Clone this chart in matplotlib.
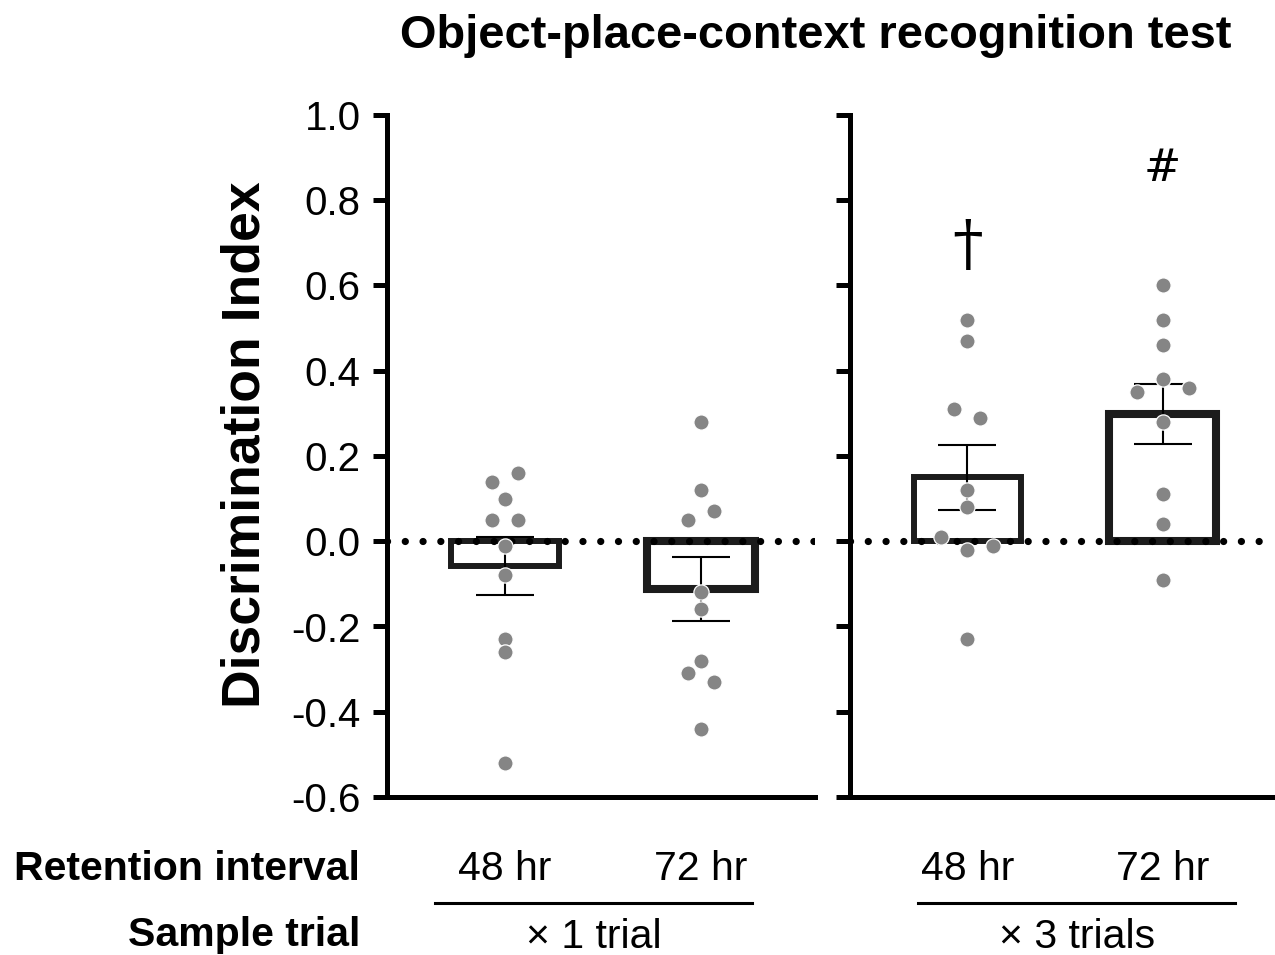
import matplotlib
matplotlib.use("Agg")
import matplotlib.pyplot as plt
from matplotlib.lines import Line2D

W, H = 1275, 955
plt.rcParams.update({
    "font.family": ["Liberation Sans", "DejaVu Sans"],
    "axes.linewidth": 3.6,
})

# ---- data ----
intervals = ["48 hr", "72 hr"]
groups = ["\u00d7 1 trial", "\u00d7 3 trials"]

one_48 = [0.14, 0.16, 0.10, 0.05, 0.05, -0.01, -0.08, -0.23, -0.26, -0.52]
one_72 = [0.28, 0.12, 0.05, 0.07, -0.12, -0.16, -0.28, -0.31, -0.33, -0.44]
three_48 = [0.52, 0.47, 0.31, 0.29, 0.12, 0.08, 0.01, -0.02, -0.01, -0.23]
three_72 = [0.60, 0.52, 0.46, 0.35, 0.38, 0.36, 0.28, 0.11, 0.04, -0.09]

means_one = [-0.058, -0.112]
sem_one = [0.068, 0.074]
means_three = [0.150, 0.298]
sem_three = [0.076, 0.070]

marks_three = ["\u2020", "#"]
mark_y = [0.69, 0.875]

BAR_EDGE = "#1c1c1c"
DOT = "#858585"


def swarm(vals, step=0.1325, gap=0.028):
    """centre points that sit on the same 'row' (close values)"""
    order = sorted(range(len(vals)), key=lambda i: -vals[i])
    rows = []
    for i in order:
        if rows and vals[rows[-1][-1]] - vals[i] < gap:
            rows[-1].append(i)
        else:
            rows.append([i])
    off = [0.0] * len(vals)
    for r in rows:
        r = sorted(r)
        n = len(r)
        for k, i in enumerate(r):
            off[i] = (k - (n - 1) / 2) * step
    return off


def panel(ax, pts, means, sems, show_labels):
    xs = [0, 1]
    lws = [4.3, 5.8]
    for x, m, s, lw in zip(xs, means, sems, lws):
        ax.bar(x, m, width=0.55, facecolor="white", edgecolor=BAR_EDGE,
               linewidth=lw, zorder=2)
        ax.errorbar(x, m, yerr=s, fmt="none", ecolor="black", elinewidth=1.5,
                    capsize=21, capthick=1.5, zorder=3)
    ax.axhline(0, color="black", lw=5.2, ls=(0, (0.01, 2.45)),
               dash_capstyle="round", zorder=3)
    for x, v in zip(xs, pts):
        off = swarm(v)
        ax.scatter([x + o for o in off], v, s=120, color=DOT,
                   edgecolor="white", linewidth=0.9, zorder=5)

    ax.set_xlim(-0.6, 1.58)
    ax.set_ylim(-0.6, 1.0)
    ax.set_yticks([1.0, 0.8, 0.6, 0.4, 0.2, 0.0, -0.2, -0.4, -0.6])
    ax.set_xticks([])
    ax.spines["top"].set_visible(False)
    ax.spines["right"].set_visible(False)
    ax.tick_params(axis="y", length=10, width=3.6, pad=9, labelsize=29,
                   direction="out")
    if show_labels:
        ax.set_yticklabels([f"{t:.1f}" for t in ax.get_yticks()])
    else:
        ax.set_yticklabels([])


fig = plt.figure(figsize=(W / 100, H / 100), dpi=100)


def px(x, y):
    return x / W, 1 - y / H


ax1 = fig.add_axes([387 / W, 1 - 797 / H, (815 - 387) / W, (797 - 115) / H])
ax2 = fig.add_axes([850 / W, 1 - 797 / H, (1276 - 850) / W, (797 - 115) / H])
panel(ax1, [one_48, one_72], means_one, sem_one, True)
panel(ax2, [three_48, three_72], means_three, sem_three, False)

for x, t, yv, fs in zip([0, 1], marks_three, mark_y, [44, 32]):
    ax2.text(x, yv, t, ha="center", va="center", fontsize=fs,
             family=["DejaVu Serif"], zorder=6)

fig.text(*px(816, 48), "Object-place-context recognition test", ha="center",
         va="baseline", fontsize=33.8, fontweight="bold")
fig.text(*px(245, 445), "Discrimination Index", rotation=90, ha="center",
         va="center", fontsize=38.5, fontweight="bold")

# category rows under the panels
fig.text(*px(360, 880), "Retention interval", ha="right", va="baseline",
         fontsize=29.5, fontweight="bold")
fig.text(*px(360, 946), "Sample trial", ha="right", va="baseline",
         fontsize=29.5, fontweight="bold")

for cx, grp, (l, r) in zip([594, 1077], groups, [(435, 752), (918, 1235)]):
    fig.text(*px(cx, 948), grp, ha="center", va="baseline", fontsize=29.5)
    fig.add_artist(Line2D([l / W, r / W], [1 - 903 / H] * 2, color="black",
                          lw=2.2, transform=fig.transFigure))

for ax in (ax1, ax2):
    for x, lab in zip([0, 1], intervals):
        ax.annotate(lab, xy=(x, 0), xycoords=("data", "figure fraction"),
                    xytext=(0, 1 - 880 / H), textcoords=("offset points", "figure fraction"),
                    ha="center", va="baseline", fontsize=29.5)

fig.savefig("out.png", dpi=100)
